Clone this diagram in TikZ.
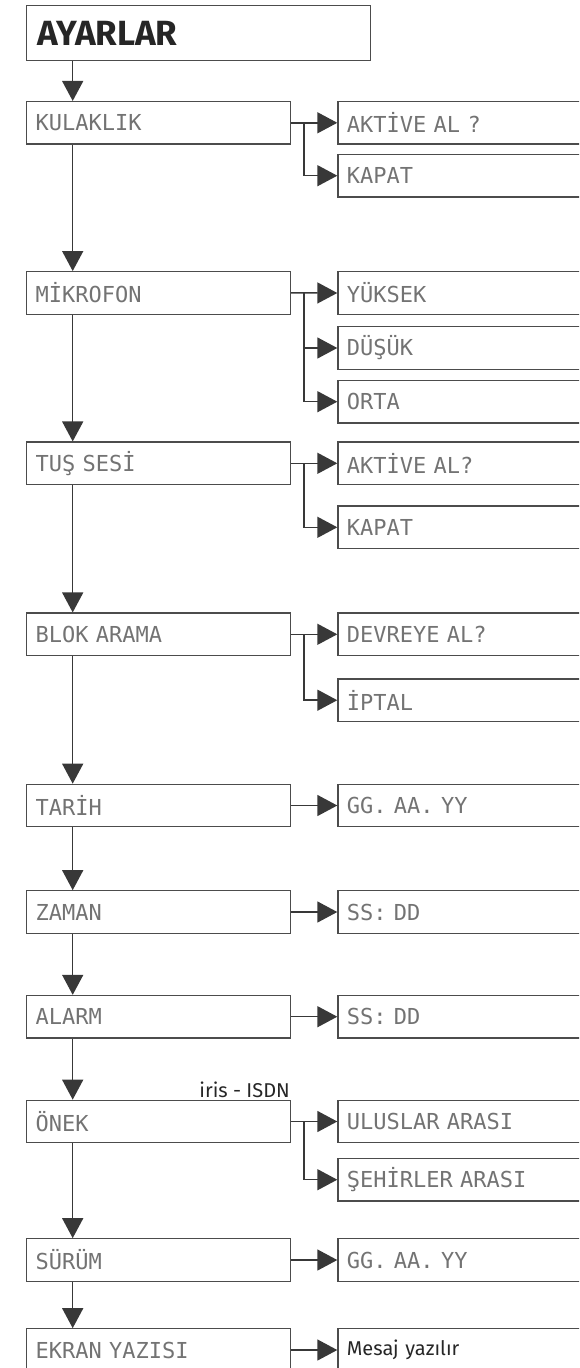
\documentclass[tikz,border=0pt]{standalone}
\usepackage{fontspec}
\setmainfont{Fira Sans}
\newfontfamily\lcdfont{DejaVu Sans Mono}
\usetikzlibrary{arrows.meta,positioning}

\tikzset{
  menubox/.style={draw=black!70, line width=1.2pt, anchor=west,
    minimum height=42.5pt, text width=246pt, inner xsep=9pt, inner ysep=0pt,
    align=left, font=\lcdfont\fontsize{22}{22}\selectfont, text=black!55},
  optbox/.style={menubox, text width=262pt},
  flow/.style={draw=black!78, line width=1.5pt, -{Triangle[length=20pt,width=21pt]}},
}

\begin{document}
\begin{tikzpicture}[x=1pt,y=-1pt]
    \useasboundingbox (0,0) rectangle (579,1368);
    \clip (0,0) rectangle (579,1368);

    % Title
    \node[draw=black!70, line width=1.2pt, anchor=north west, minimum height=55pt,
      text width=322pt, inner xsep=11pt, align=left, text=black!85,
      font=\bfseries\fontsize{35}{35}\selectfont] (ayar) at (26,5) {AYARLAR};

    % Menu entries
    \node[menubox] (kul) at (26,122.8) {KULAKLIK};
    \node[menubox] (mik) at (26,292.9) {MİKROFON};
    \node[menubox] (tus) at (26,463.3) {TUŞ SESİ};
    \node[menubox] (blok) at (26,634.3) {BLOK ARAMA};
    \node[menubox] (tar) at (26,805.5) {TARİH};
    \node[menubox] (zam) at (26,912) {ZAMAN};
    \node[menubox] (alm) at (26,1016.7) {ALARM};
    \node[menubox] (onek) at (26,1121.5) {ÖNEK};
    \node[menubox] (sur) at (26,1260) {SÜRÜM};
    \node[menubox] (ekr) at (26,1350) {EKRAN YAZISI};

    \node[anchor=base east, font=\fontsize{20}{20}\selectfont, text=black!85,
      inner sep=0pt] (isdn) at (290,1097) {iris - ISDN};

    % Options
    \node[optbox] (akt1) at (337.3,122.8) {AKTİVE AL ?};
    \node[optbox] (kap1) at (337.3,175.7) {KAPAT};
    \node[optbox] (yuk) at (337.3,293) {YÜKSEK};
    \node[optbox] (dus) at (337.3,348) {DÜŞÜK};
    \node[optbox] (orta) at (337.3,401.7) {ORTA};
    \node[optbox] (akt2) at (337.3,463.3) {AKTİVE AL?};
    \node[optbox] (kap2) at (337.3,527.3) {KAPAT};
    \node[optbox] (dev) at (337.3,634.3) {DEVREYE AL?};
    \node[optbox] (ipt) at (337.3,700.2) {İPTAL};
    \node[optbox] (gg1) at (337.3,805.5) {GG. AA. YY};
    \node[optbox] (ss1) at (337.3,912) {SS: DD};
    \node[optbox] (ss2) at (337.3,1016.7) {SS: DD};
    \node[optbox] (ulus) at (337.3,1121.5) {ULUSLAR ARASI};
    \node[optbox] (sehir) at (337.3,1179.7) {ŞEHİRLER ARASI};
    \node[optbox] (gg2) at (337.3,1260) {GG. AA. YY};
    \node[optbox, font=\fontsize{20}{20}\selectfont, text=black!85] (mesaj) at (337.3,1350) {Mesaj yazılır};

    % Main chain
    \draw[flow] ([xshift=46.7pt]ayar.south west) -- ([xshift=46.7pt]kul.north west);
    \foreach \a/\b in {kul/mik, mik/tus, tus/blok, blok/tar, tar/zam, zam/alm, alm/onek, onek/sur, sur/ekr}
        \draw[flow] ([xshift=46.7pt]\a.south west) -- ([xshift=46.7pt]\b.north west);

    % Branches
    \foreach \a/\b in {kul/akt1, mik/yuk, tus/akt2, blok/dev, tar/gg1, zam/ss1, alm/ss2, onek/ulus, sur/gg2, ekr/mesaj}
        \draw[flow] (\a.east) -- (\b.west);
    \foreach \a/\b in {kul/kap1, mik/dus, mik/orta, tus/kap2, blok/ipt, onek/sehir}
        \draw[flow] ([xshift=12.8pt]\a.east) |- (\b.west);
\end{tikzpicture}
\end{document}
